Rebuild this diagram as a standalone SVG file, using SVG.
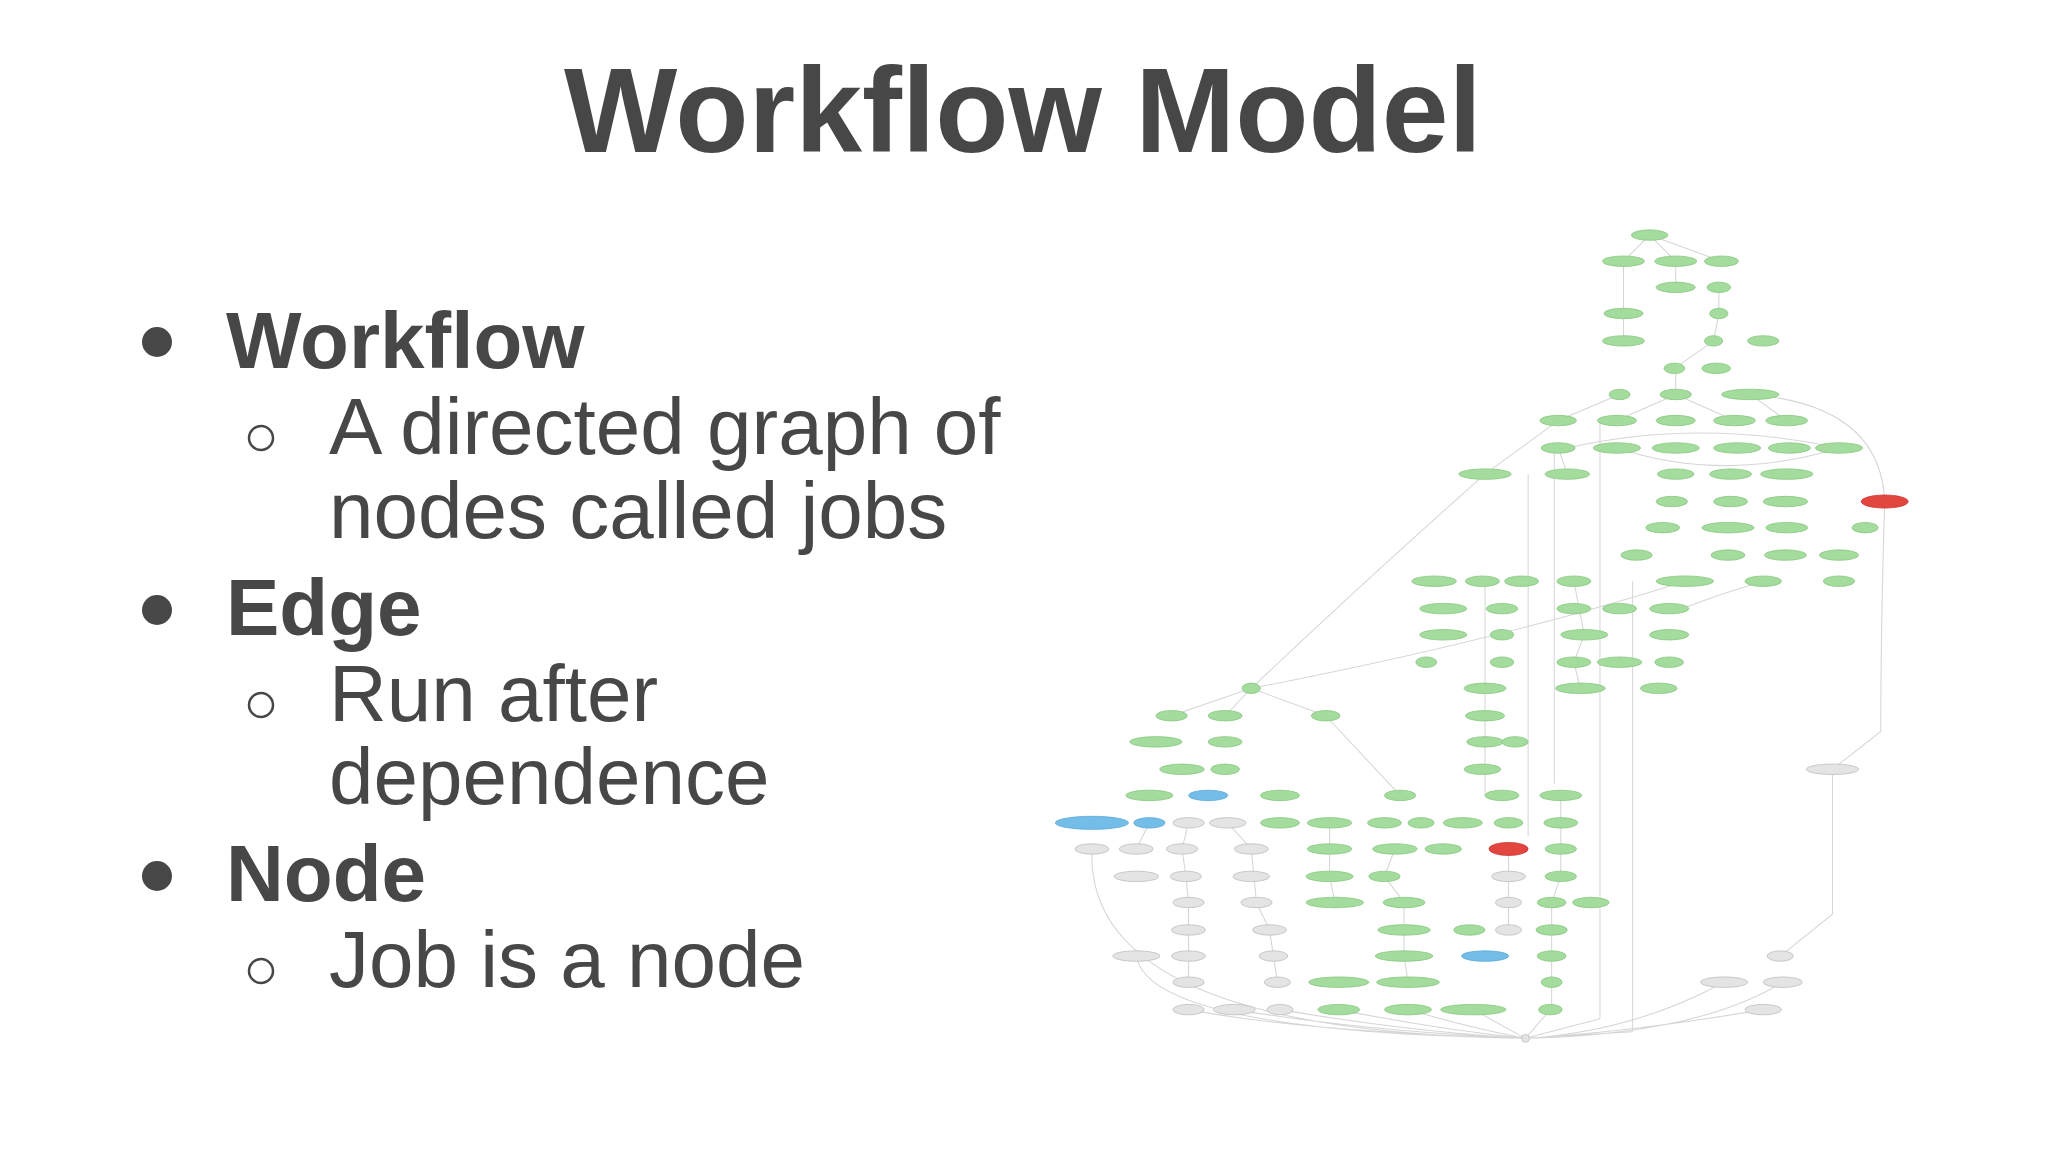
<svg xmlns="http://www.w3.org/2000/svg" width="2048" height="1152" viewBox="0 0 2048 1152">
<style>
.t{font-family:Arial,"Liberation Sans",sans-serif;fill:#474747}
.g{fill:#a3dc9c;stroke:#86c57f;stroke-width:.6}
.s{fill:#e4e4e4;stroke:#bdbdbd;stroke-width:.6}
.b{fill:#74bde9;stroke:#5aa6d6;stroke-width:.6}
.r{fill:#e2463e;stroke:#c83430;stroke-width:.6}
.e{fill:none;stroke:#d6d6d6;stroke-width:.8}
</style>
<rect width="2048" height="1152" fill="#fff"/>
<text class="t" x="1023" y="152" font-size="120" font-weight="bold" text-anchor="middle">Workflow Model</text>
<g font-size="80">
<circle cx="157" cy="342" r="15" fill="#474747"/><text class="t" x="226" y="368" font-weight="bold">Workflow</text>
<circle cx="261" cy="438" r="12" fill="none" stroke="#474747" stroke-width="2.5"/><text class="t" x="329" y="454">A directed graph of</text>
<text class="t" x="329" y="538">nodes called jobs</text>
<circle cx="157" cy="610" r="15" fill="#474747"/><text class="t" x="226" y="635" font-weight="bold">Edge</text>
<circle cx="261" cy="705" r="12" fill="none" stroke="#474747" stroke-width="2.5"/><text class="t" x="329" y="721">Run after</text>
<text class="t" x="329" y="804">dependence</text>
<circle cx="157" cy="876" r="15" fill="#474747"/><text class="t" x="226" y="901" font-weight="bold">Node</text>
<circle cx="261" cy="971" r="12" fill="none" stroke="#474747" stroke-width="2.5"/><text class="t" x="329" y="987">Job is a node</text>
</g>
<g transform="scale(1.3061)">
<g id="edges">
<path class="e" d="M1263 180 L1243 200 M1263 180 L1283 200 M1263 180 L1318 200 M1283 200 L1283 220 M1243 200 L1243 240 M1243 240 L1243 261 M1316 220 L1316 240 L1312 261 M1312 261 L1282 282 M1283 282 L1283 302 M1240 302 L1193 322 M1283 302 L1238 322 M1283 302 L1328 322 M1340 302 L1368 322 M1193 322 L1137 363 M1193 343 L1200 363"/>
<path class="e" d="M1200 343 Q1300 320 1408 343 M1238 343 Q1320 370 1408 343 M1340 302 Q1440 310 1443 384 M1443 384 Q1440 480 1440 560 L1403 589"/>
<path class="e" d="M1137 363 Q1050 440 958 527 M958 527 Q1150 490 1290 445 M1350 445 Q1300 460 1280 470 M958 527 L938 548 M958 527 L897 548 M958 527 L1015 548 M1015 548 L1072 609"/>
<path class="e" d="M1190 343 L1190 600 M1225 322 L1225 780 M1250 445 L1250 790 M1170 363 L1170 640 M1403 589 L1403 700 L1363 732"/>
<path class="e" d="M910 773 Q1000 790 1168 795 M945 773 Q1050 790 1168 795 M980 773 Q1080 790 1168 795 M1025 773 Q1100 788 1168 795 M1078 773 Q1130 788 1168 795 M1128 773 L1168 795 M1187 773 L1168 795 M1350 773 Q1250 790 1168 795 M1320 752 Q1250 790 1168 795 M1365 752 Q1300 792 1168 795 M870 732 Q880 790 1168 795 M836 650 Q830 790 1168 795 M1225 780 L1168 795 M1250 790 L1168 795"/>
<path class="e" d="M880 630 L870 650 M910 630 L905 650 M940 630 L958 650 M905 650 L908 671 M908 671 L910 691 L910 712 L910 732 L910 752 M958 650 L962 691 L972 712 L975 732 L978 752 M1018 630 L1018 671 L1022 691 M1068 650 L1060 671 L1075 691 L1075 712 L1075 732 L1078 752 M1155 650 L1155 712 M1195 609 L1195 671 L1188 691 L1188 773 M1137 445 L1137 609 M1205 445 L1213 486 L1205 507 L1210 527"/>
</g>
<g id="n1"><ellipse class="g" cx="1263" cy="180" rx="14" ry="4"/></g>
<g id="n2"><ellipse class="g" cx="1243" cy="200" rx="16" ry="4"/></g>
<g id="n3"><ellipse class="g" cx="1283" cy="200" rx="16" ry="4"/></g>
<g id="n4"><ellipse class="g" cx="1318" cy="200" rx="13" ry="4"/></g>
<g id="n5"><ellipse class="g" cx="1283" cy="220" rx="15" ry="4"/></g>
<g id="n6"><ellipse class="g" cx="1316" cy="220" rx="9" ry="4"/></g>
<g id="n7"><ellipse class="g" cx="1243" cy="240" rx="15" ry="4"/></g>
<g id="n8"><ellipse class="g" cx="1316" cy="240" rx="7" ry="4"/></g>
<g id="n9"><ellipse class="g" cx="1243" cy="261" rx="16" ry="4"/></g>
<g id="n10"><ellipse class="g" cx="1312" cy="261" rx="7" ry="4"/></g>
<g id="n11"><ellipse class="g" cx="1350" cy="261" rx="12" ry="4"/></g>
<g id="n12"><ellipse class="g" cx="1282" cy="282" rx="8" ry="4"/></g>
<g id="n13"><ellipse class="g" cx="1314" cy="282" rx="11" ry="4"/></g>
<g id="n14"><ellipse class="g" cx="1240" cy="302" rx="8" ry="4"/></g>
<g id="n15"><ellipse class="g" cx="1283" cy="302" rx="12" ry="4"/></g>
<g id="n16"><ellipse class="g" cx="1340" cy="302" rx="22" ry="4"/></g>
<g id="n17"><ellipse class="g" cx="1193" cy="322" rx="14" ry="4"/></g>
<g id="n18"><ellipse class="g" cx="1238" cy="322" rx="15" ry="4"/></g>
<g id="n19"><ellipse class="g" cx="1283" cy="322" rx="15" ry="4"/></g>
<g id="n20"><ellipse class="g" cx="1328" cy="322" rx="16" ry="4"/></g>
<g id="n21"><ellipse class="g" cx="1368" cy="322" rx="16" ry="4"/></g>
<g id="n22"><ellipse class="g" cx="1193" cy="343" rx="13" ry="4"/></g>
<g id="n23"><ellipse class="g" cx="1238" cy="343" rx="18" ry="4"/></g>
<g id="n24"><ellipse class="g" cx="1283" cy="343" rx="18" ry="4"/></g>
<g id="n25"><ellipse class="g" cx="1330" cy="343" rx="18" ry="4"/></g>
<g id="n26"><ellipse class="g" cx="1370" cy="343" rx="16" ry="4"/></g>
<g id="n27"><ellipse class="g" cx="1408" cy="343" rx="18" ry="4"/></g>
<g id="n28"><ellipse class="g" cx="1137" cy="363" rx="20" ry="4"/></g>
<g id="n29"><ellipse class="g" cx="1200" cy="363" rx="17" ry="4"/></g>
<g id="n30"><ellipse class="g" cx="1283" cy="363" rx="14" ry="4"/></g>
<g id="n31"><ellipse class="g" cx="1325" cy="363" rx="16" ry="4"/></g>
<g id="n32"><ellipse class="g" cx="1368" cy="363" rx="20" ry="4"/></g>
<g id="n33"><ellipse class="g" cx="1280" cy="384" rx="12" ry="4"/></g>
<g id="n34"><ellipse class="g" cx="1325" cy="384" rx="13" ry="4"/></g>
<g id="n35"><ellipse class="g" cx="1367" cy="384" rx="17" ry="4"/></g>
<g id="n36"><ellipse class="r" cx="1443" cy="384" rx="18" ry="5"/></g>
<g id="n37"><ellipse class="g" cx="1273" cy="404" rx="13" ry="4"/></g>
<g id="n38"><ellipse class="g" cx="1323" cy="404" rx="20" ry="4"/></g>
<g id="n39"><ellipse class="g" cx="1368" cy="404" rx="16" ry="4"/></g>
<g id="n40"><ellipse class="g" cx="1428" cy="404" rx="10" ry="4"/></g>
<g id="n41"><ellipse class="g" cx="1253" cy="425" rx="12" ry="4"/></g>
<g id="n42"><ellipse class="g" cx="1323" cy="425" rx="13" ry="4"/></g>
<g id="n43"><ellipse class="g" cx="1367" cy="425" rx="16" ry="4"/></g>
<g id="n44"><ellipse class="g" cx="1408" cy="425" rx="15" ry="4"/></g>
<g id="n45"><ellipse class="g" cx="1098" cy="445" rx="17" ry="4"/></g>
<g id="n46"><ellipse class="g" cx="1135" cy="445" rx="13" ry="4"/></g>
<g id="n47"><ellipse class="g" cx="1165" cy="445" rx="13" ry="4"/></g>
<g id="n48"><ellipse class="g" cx="1205" cy="445" rx="13" ry="4"/></g>
<g id="n49"><ellipse class="g" cx="1290" cy="445" rx="22" ry="4"/></g>
<g id="n50"><ellipse class="g" cx="1350" cy="445" rx="14" ry="4"/></g>
<g id="n51"><ellipse class="g" cx="1408" cy="445" rx="12" ry="4"/></g>
<g id="n52"><ellipse class="g" cx="1105" cy="466" rx="18" ry="4"/></g>
<g id="n53"><ellipse class="g" cx="1150" cy="466" rx="12" ry="4"/></g>
<g id="n54"><ellipse class="g" cx="1205" cy="466" rx="13" ry="4"/></g>
<g id="n55"><ellipse class="g" cx="1240" cy="466" rx="13" ry="4"/></g>
<g id="n56"><ellipse class="g" cx="1278" cy="466" rx="15" ry="4"/></g>
<g id="n57"><ellipse class="g" cx="1105" cy="486" rx="18" ry="4"/></g>
<g id="n58"><ellipse class="g" cx="1150" cy="486" rx="9" ry="4"/></g>
<g id="n59"><ellipse class="g" cx="1213" cy="486" rx="18" ry="4"/></g>
<g id="n60"><ellipse class="g" cx="1278" cy="486" rx="15" ry="4"/></g>
<g id="n61"><ellipse class="g" cx="1092" cy="507" rx="8" ry="4"/></g>
<g id="n62"><ellipse class="g" cx="1150" cy="507" rx="9" ry="4"/></g>
<g id="n63"><ellipse class="g" cx="1205" cy="507" rx="13" ry="4"/></g>
<g id="n64"><ellipse class="g" cx="1240" cy="507" rx="17" ry="4"/></g>
<g id="n65"><ellipse class="g" cx="1278" cy="507" rx="11" ry="4"/></g>
<g id="n66"><ellipse class="g" cx="958" cy="527" rx="7" ry="4"/></g>
<g id="n67"><ellipse class="g" cx="1137" cy="527" rx="16" ry="4"/></g>
<g id="n68"><ellipse class="g" cx="1210" cy="527" rx="19" ry="4"/></g>
<g id="n69"><ellipse class="g" cx="1270" cy="527" rx="14" ry="4"/></g>
<g id="n70"><ellipse class="g" cx="897" cy="548" rx="12" ry="4"/></g>
<g id="n71"><ellipse class="g" cx="938" cy="548" rx="13" ry="4"/></g>
<g id="n72"><ellipse class="g" cx="1015" cy="548" rx="11" ry="4"/></g>
<g id="n73"><ellipse class="g" cx="1137" cy="548" rx="15" ry="4"/></g>
<g id="n74"><ellipse class="g" cx="885" cy="568" rx="20" ry="4"/></g>
<g id="n75"><ellipse class="g" cx="938" cy="568" rx="13" ry="4"/></g>
<g id="n76"><ellipse class="g" cx="1137" cy="568" rx="14" ry="4"/></g>
<g id="n77"><ellipse class="g" cx="1160" cy="568" rx="10" ry="4"/></g>
<g id="n78"><ellipse class="g" cx="905" cy="589" rx="17" ry="4"/></g>
<g id="n79"><ellipse class="g" cx="938" cy="589" rx="11" ry="4"/></g>
<g id="n80"><ellipse class="g" cx="1135" cy="589" rx="14" ry="4"/></g>
<g id="n81"><ellipse class="s" cx="1403" cy="589" rx="20" ry="4"/></g>
<g id="n82"><ellipse class="g" cx="880" cy="609" rx="18" ry="4"/></g>
<g id="n83"><ellipse class="b" cx="925" cy="609" rx="15" ry="4"/></g>
<g id="n84"><ellipse class="g" cx="980" cy="609" rx="15" ry="4"/></g>
<g id="n85"><ellipse class="g" cx="1072" cy="609" rx="12" ry="4"/></g>
<g id="n86"><ellipse class="g" cx="1150" cy="609" rx="13" ry="4"/></g>
<g id="n87"><ellipse class="g" cx="1195" cy="609" rx="16" ry="4"/></g>
<g id="n88"><ellipse class="b" cx="836" cy="630" rx="28" ry="5"/></g>
<g id="n89"><ellipse class="b" cx="880" cy="630" rx="12" ry="4"/></g>
<g id="n90"><ellipse class="s" cx="910" cy="630" rx="12" ry="4"/></g>
<g id="n91"><ellipse class="s" cx="940" cy="630" rx="14" ry="4"/></g>
<g id="n92"><ellipse class="g" cx="980" cy="630" rx="15" ry="4"/></g>
<g id="n93"><ellipse class="g" cx="1018" cy="630" rx="17" ry="4"/></g>
<g id="n94"><ellipse class="g" cx="1060" cy="630" rx="13" ry="4"/></g>
<g id="n95"><ellipse class="g" cx="1088" cy="630" rx="10" ry="4"/></g>
<g id="n96"><ellipse class="g" cx="1120" cy="630" rx="15" ry="4"/></g>
<g id="n97"><ellipse class="g" cx="1155" cy="630" rx="11" ry="4"/></g>
<g id="n98"><ellipse class="g" cx="1195" cy="630" rx="13" ry="4"/></g>
<g id="n99"><ellipse class="s" cx="836" cy="650" rx="13" ry="4"/></g>
<g id="n100"><ellipse class="s" cx="870" cy="650" rx="13" ry="4"/></g>
<g id="n101"><ellipse class="s" cx="905" cy="650" rx="12" ry="4"/></g>
<g id="n102"><ellipse class="s" cx="958" cy="650" rx="13" ry="4"/></g>
<g id="n103"><ellipse class="g" cx="1018" cy="650" rx="17" ry="4"/></g>
<g id="n104"><ellipse class="g" cx="1068" cy="650" rx="17" ry="4"/></g>
<g id="n105"><ellipse class="g" cx="1105" cy="650" rx="14" ry="4"/></g>
<g id="n106"><ellipse class="r" cx="1155" cy="650" rx="15" ry="5"/></g>
<g id="n107"><ellipse class="g" cx="1195" cy="650" rx="12" ry="4"/></g>
<g id="n108"><ellipse class="s" cx="870" cy="671" rx="17" ry="4"/></g>
<g id="n109"><ellipse class="s" cx="908" cy="671" rx="12" ry="4"/></g>
<g id="n110"><ellipse class="s" cx="958" cy="671" rx="14" ry="4"/></g>
<g id="n111"><ellipse class="g" cx="1018" cy="671" rx="18" ry="4"/></g>
<g id="n112"><ellipse class="g" cx="1060" cy="671" rx="12" ry="4"/></g>
<g id="n113"><ellipse class="s" cx="1155" cy="671" rx="13" ry="4"/></g>
<g id="n114"><ellipse class="g" cx="1195" cy="671" rx="12" ry="4"/></g>
<g id="n115"><ellipse class="s" cx="910" cy="691" rx="12" ry="4"/></g>
<g id="n116"><ellipse class="s" cx="962" cy="691" rx="12" ry="4"/></g>
<g id="n117"><ellipse class="g" cx="1022" cy="691" rx="22" ry="4"/></g>
<g id="n118"><ellipse class="g" cx="1075" cy="691" rx="16" ry="4"/></g>
<g id="n119"><ellipse class="s" cx="1155" cy="691" rx="10" ry="4"/></g>
<g id="n120"><ellipse class="g" cx="1188" cy="691" rx="11" ry="4"/></g>
<g id="n121"><ellipse class="g" cx="1218" cy="691" rx="14" ry="4"/></g>
<g id="n122"><ellipse class="s" cx="910" cy="712" rx="13" ry="4"/></g>
<g id="n123"><ellipse class="s" cx="972" cy="712" rx="13" ry="4"/></g>
<g id="n124"><ellipse class="g" cx="1075" cy="712" rx="20" ry="4"/></g>
<g id="n125"><ellipse class="g" cx="1125" cy="712" rx="12" ry="4"/></g>
<g id="n126"><ellipse class="s" cx="1155" cy="712" rx="10" ry="4"/></g>
<g id="n127"><ellipse class="g" cx="1188" cy="712" rx="12" ry="4"/></g>
<g id="n128"><ellipse class="s" cx="870" cy="732" rx="18" ry="4"/></g>
<g id="n129"><ellipse class="s" cx="910" cy="732" rx="13" ry="4"/></g>
<g id="n130"><ellipse class="s" cx="975" cy="732" rx="11" ry="4"/></g>
<g id="n131"><ellipse class="g" cx="1075" cy="732" rx="22" ry="4"/></g>
<g id="n132"><ellipse class="b" cx="1137" cy="732" rx="18" ry="4"/></g>
<g id="n133"><ellipse class="g" cx="1188" cy="732" rx="11" ry="4"/></g>
<g id="n134"><ellipse class="s" cx="1363" cy="732" rx="10" ry="4"/></g>
<g id="n135"><ellipse class="s" cx="910" cy="752" rx="12" ry="4"/></g>
<g id="n136"><ellipse class="s" cx="978" cy="752" rx="10" ry="4"/></g>
<g id="n137"><ellipse class="g" cx="1025" cy="752" rx="23" ry="4"/></g>
<g id="n138"><ellipse class="g" cx="1078" cy="752" rx="24" ry="4"/></g>
<g id="n139"><ellipse class="g" cx="1188" cy="752" rx="8" ry="4"/></g>
<g id="n140"><ellipse class="s" cx="1320" cy="752" rx="18" ry="4"/></g>
<g id="n141"><ellipse class="s" cx="1365" cy="752" rx="15" ry="4"/></g>
<g id="n142"><ellipse class="s" cx="910" cy="773" rx="12" ry="4"/></g>
<g id="n143"><ellipse class="s" cx="945" cy="773" rx="16" ry="4"/></g>
<g id="n144"><ellipse class="s" cx="980" cy="773" rx="10" ry="4"/></g>
<g id="n145"><ellipse class="g" cx="1025" cy="773" rx="16" ry="4"/></g>
<g id="n146"><ellipse class="g" cx="1078" cy="773" rx="18" ry="4"/></g>
<g id="n147"><ellipse class="g" cx="1128" cy="773" rx="25" ry="4"/></g>
<g id="n148"><ellipse class="g" cx="1187" cy="773" rx="9" ry="4"/></g>
<g id="n149"><ellipse class="s" cx="1350" cy="773" rx="14" ry="4"/></g>
<g id="n150"><ellipse class="s" cx="1168" cy="795" rx="3" ry="3"/></g>
</g>
</svg>
